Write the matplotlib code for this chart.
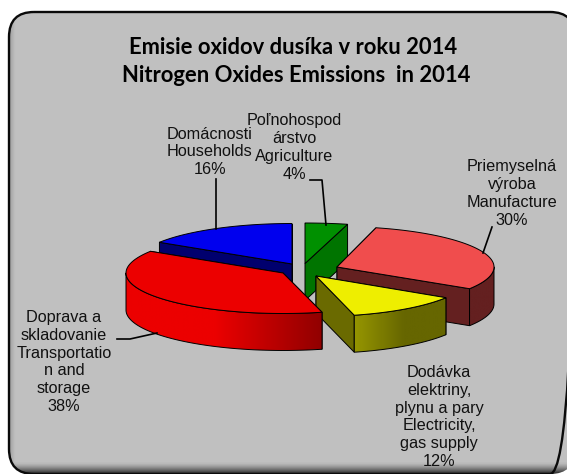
import numpy as np
import matplotlib
matplotlib.use("Agg")
import matplotlib.pyplot as plt
from matplotlib.patches import FancyBboxPatch, Polygon

categories = ["Agriculture", "Manufacture", "Electricity", "Transportation", "Households"]
values = [4, 30, 12, 38, 16]
labels = ["Poľnohospod\nárstvo\nAgriculture\n4%", "Priemyselná\nvýroba\nManufacture\n30%",
          "Dodávka\nelektriny,\nplynu a pary\nElectricity,\ngas supply\n12%",
          "Doprava a\nskladovanie\nTransportatio\nn and\nstorage\n38%", "Domácnosti\nHouseholds\n16%"]
title_lines = ["Emisie oxidov dusíka v roku 2014", "Nitrogen Oxides Emissions  in 2014"]

top_col = ["#009000", "#F04D4D", "#EEEE00", "#EC0000", "#0000EE"]
wall_col = ["#007400", "#642020", "#6A6A00", "#A00000", "#00006E"]
grad_start = ["#007400", "#642020", "#969600", "#EC0000", "#00006E"]
grad_end = ["#007400", "#642020", "#666600", "#900000", "#00006E"]
grad_knee = [0, 0, 0, 0.45, 0]
grad_stop = [1, 1, 0.55, 1, 1]
apex = [(305, 263.5), (337, 267), (316, 276), (283, 273), (292, 264)]
rx_scale = [1.09, 1.0, 0.98, 1.0, 1.0]
label_pos = [(294, 147.5), (512, 193.5), (439, 417), (64, 362), (210, 152)]
leaders = [[(310, 180), (322, 180), (326, 225)], [(492, 227), (483, 253)],
           [(117, 339), (130, 339), (157, 333)], [(216, 179), (216, 229)]]

RX, RY, DEPTH = 157.0, 40.5, 37.0
W, H = 567, 474
fig = plt.figure(figsize=(W / 100, H / 100), dpi=100, facecolor="white")
ax = fig.add_axes([0, 0, 1, 1])
ax.axis("off")

frame = FancyBboxPatch((9, 12), 566, 462, boxstyle="round,pad=0,rounding_size=25",
                       fc="#C0C0C0", ec="none", zorder=1)
ax.add_patch(frame)
# inner shadow along bottom and left edges, clipped to the frame
g = np.zeros((240, 240, 4))
yy, xx = np.mgrid[0:240, 0:240] + 0.5
yy = yy / 240 * (H - 12) + 12
xx = xx / 240 * (W - 9) + 9
g[..., 3] = np.clip((yy - 462) / 12, 0, 1) ** 1.5 * 0.85 + np.clip((15 - xx) / 6, 0, 1) * 0.2
s = ax.imshow(g, extent=(9, W, H, 12), aspect="auto", zorder=1.5, interpolation="bilinear")
s.set_clip_path(frame)
ax.add_patch(FancyBboxPatch((9, 12), 566, 462, boxstyle="round,pad=0,rounding_size=25",
                            fc="none", ec="#0A0A0A", lw=1.7, zorder=1.6))
ax.set_xlim(0, W); ax.set_ylim(H, 0)

ang = np.cumsum([0] + values) / sum(values) * 2 * np.pi

def pt(c, a, k=1.0, dz=0.0):
    return np.array([c[0] + RX * k * np.sin(a), c[1] - RY * np.cos(a) + dz])

def rgb(c):
    return np.array(matplotlib.colors.to_rgb(c))

order = [4, 0, 1, 2, 3]
for n, i in enumerate(order):
    c, a0, a1, k = apex[i], ang[i], ang[i + 1], rx_scale[i]
    z = 2 + 0.1 * n
    ts = np.linspace(a0, a1, 120)
    for a in (a0, a1):
        e = pt(c, a, k)
        ax.add_patch(Polygon([c, e, e + (0, DEPTH), (c[0], c[1] + DEPTH)],
                             fc=wall_col[i], ec="black", lw=0.7, zorder=z))
    front = ts[np.cos(ts) < 0.02]
    if len(front) > 1:
        top = np.array([pt(c, t, k) for t in front])
        bot = top + (0, DEPTH)
        lo, hi = top[:, 0].min(), top[:, 0].max()
        ymin, ymax = top[:, 1].min(), bot[:, 1].max()
        u = np.linspace(0, 1, 256)
        f = np.clip((u - grad_knee[i]) / (grad_stop[i] - grad_knee[i]), 0, 1)[:, None]
        row = rgb(grad_start[i]) * (1 - f) + rgb(grad_end[i]) * f
        rim = Polygon(np.vstack([top, bot[::-1]]), fc="none", ec="black", lw=0.7, zorder=z + 0.002)
        ax.add_patch(rim)
        img = ax.imshow(row[None, :, :], extent=(lo, hi, ymax, ymin), aspect="auto", zorder=z + 0.001)
        img.set_clip_path(rim)
    rim_pts = [pt(c, t, k) for t in ts]
    ax.add_patch(Polygon([c] + rim_pts, fc=top_col[i], ec="black", lw=0.7, zorder=z + 0.01))
ax.set_xlim(0, W); ax.set_ylim(H, 0)

for seg in leaders:
    ax.plot(*zip(*seg), color="black", lw=1.2, zorder=3.5, solid_joinstyle="round")

for txt, (x, y) in zip(labels, label_pos):
    ax.text(x, y, txt, ha="center", va="center", fontsize=11.7, family="Liberation Sans", color="#111111",
            linespacing=1.24, zorder=4)
ax.text(293.5, 47, title_lines[0], ha="center", va="center", fontsize=15.8, family="Lato", fontweight="bold", color="black", zorder=4)
ax.text(296, 75, title_lines[1], ha="center", va="center", fontsize=15.8, family="Lato", fontweight="bold", color="black", zorder=4)
fig.savefig("out.png", dpi=100)
